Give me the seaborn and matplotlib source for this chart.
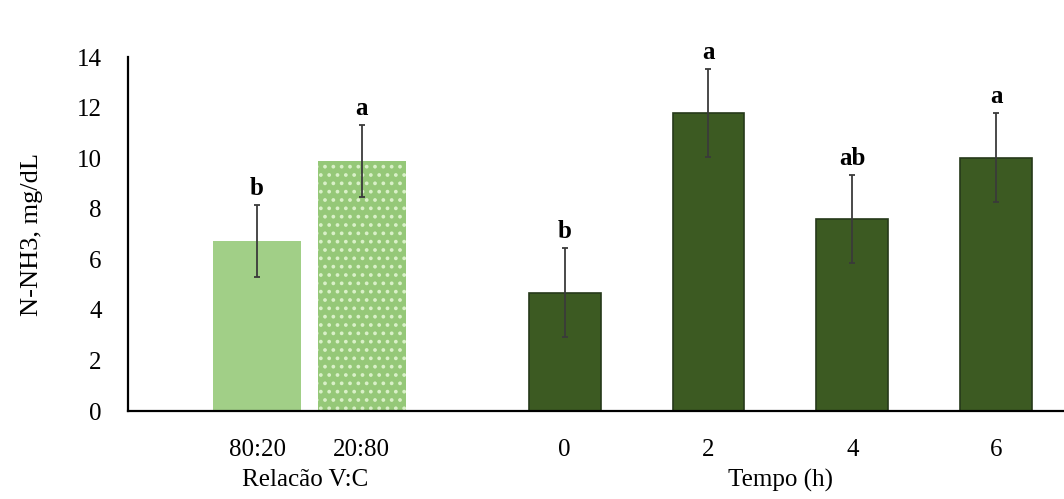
import matplotlib
matplotlib.use("Agg")
import matplotlib.pyplot as plt
import seaborn as sns
import pandas as pd
import numpy as np

# Data -------------------------------------------------------------------
ratio_labels = ["80:20", "20:80"]
ratio_means = [6.72, 9.88]
ratio_err = [1.41, 1.42]
ratio_letters = ["b", "a"]

time_labels = ["0", "2", "4", "6"]
time_means = [4.68, 11.78, 7.58, 10.02]
time_err = [1.76, 1.75, 1.74, 1.76]
time_letters = ["b", "a", "ab", "a"]

# Layout -----------------------------------------------------------------
ratio_pos = [-2.139, -1.410]
time_pos = [0.0, 1.0, 2.0, 3.0]
light_green = "#a1cf87"
dotted_green = "#95c878"
dark_green = "#3c5a22"

sns.set_style("white")
plt.rcParams["font.family"] = ["Liberation Serif", "DejaVu Serif"]
plt.rcParams["hatch.linewidth"] = 1.5
plt.rcParams["text.color"] = "black"
plt.rcParams["xtick.color"] = "black"
plt.rcParams["ytick.color"] = "black"
plt.rcParams["axes.labelcolor"] = "black"

fig = plt.figure(figsize=(10.64, 4.99), dpi=100)
ax = fig.add_axes([128 / 1064, 88 / 499, 936 / 1064, 354 / 499])

df_ratio = pd.DataFrame({"x": ratio_pos, "y": ratio_means, "g": ratio_labels})
df_time = pd.DataFrame({"x": time_pos, "y": time_means, "g": time_labels})

sns.barplot(data=df_ratio, x="x", y="y", hue="g",
            palette=[light_green, dotted_green], native_scale=True,
            width=0.833, errorbar=None, legend=False, ax=ax,
            linewidth=0, saturation=1)
sns.barplot(data=df_time, x="x", y="y", color=dark_green, native_scale=True,
            width=0.5, errorbar=None, ax=ax, linewidth=1.2,
            edgecolor="#26391a", saturation=1)

# dotted fill on the 20:80 bar
for patch in ax.patches:
    if np.isclose(patch.get_x() + patch.get_width() / 2, ratio_pos[1], atol=1e-3):
        patch.set_hatch("..")
        patch.set_edgecolor("#d9f0c8")
        patch.set_linewidth(0)

# error bars and significance letters
for xs, ms, es, ls in [(ratio_pos, ratio_means, ratio_err, ratio_letters),
                       (time_pos, time_means, time_err, time_letters)]:
    ax.errorbar(xs, ms, yerr=es, fmt="none", ecolor="#3a3a3a",
                elinewidth=1.3, capsize=2.5, capthick=1.3, zorder=5)
    for x, m, e, t in zip(xs, ms, es, ls):
        ax.text(x, m + e + 0.2, t, ha="center", va="bottom",
                fontsize=18, fontweight="bold", color="black")

ax.set_xlim(-3.036, 3.472)
ax.set_ylim(0, 14)
ax.set_yticks(range(0, 15, 2))
ax.set_xticks(ratio_pos + time_pos, ratio_labels + time_labels)
ax.tick_params(axis="both", labelsize=18, length=0)
ax.tick_params(axis="y", pad=19)
ax.tick_params(axis="x", pad=20)
ax.set_xlabel("")
ax.set_ylabel("N-NH3, mg/dL", fontsize=19, labelpad=24)

for side in ["top", "right"]:
    ax.spines[side].set_visible(False)
for side in ["left", "bottom"]:
    ax.spines[side].set_color("black")
    ax.spines[side].set_linewidth(1.6)

# group captions under the tick labels
cap_y = 19 / 499
fig.text(ax.transData.transform((np.mean(ratio_pos), 0))[0] / fig.bbox.width - 0.004,
         cap_y, "Relacão V:C", ha="center", va="center", fontsize=18)
fig.text(ax.transData.transform((np.mean(time_pos), 0))[0] / fig.bbox.width,
         cap_y, "Tempo (h)", ha="center", va="center", fontsize=18)

fig.savefig("out.png", dpi=100)
